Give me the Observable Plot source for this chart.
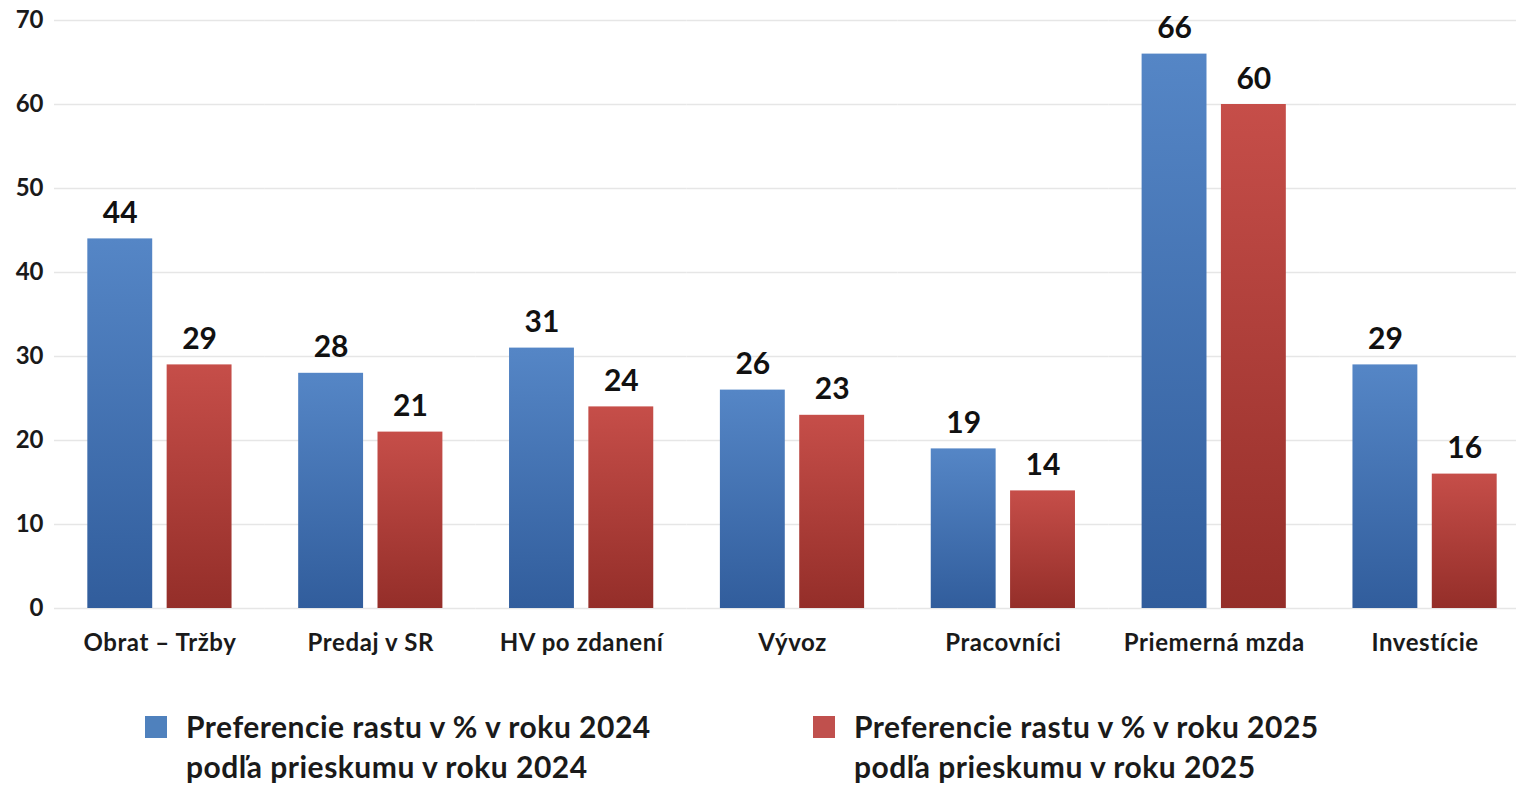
<!DOCTYPE html>
<html>
<head>
<meta charset="utf-8">
<script src="https://cdn.jsdelivr.net/npm/d3@7"></script>
<script src="https://cdn.jsdelivr.net/npm/@observablehq/plot@0.6"></script>
<style>
  html, body { margin: 0; padding: 0; background: #fff; overflow: hidden; }
  #wrap { position: relative; width: 1516px; height: 791px; overflow: hidden; font-family: Lato, "Open Sans", sans-serif; }
  #wrap svg { overflow: hidden; }
  #wrap svg g[aria-label="fx-axis tick label"] text { letter-spacing: 0.6px; }
  .leg { position: absolute; top: 706px; font-weight: bold; font-size: 30px; letter-spacing: 0.5px; line-height: 40px; color: #1a1a1a; }
  .leg .sw { position: absolute; left: 0; top: 10px; width: 22px; height: 22px; }
  .leg .tx { position: absolute; left: 41px; top: 0; white-space: nowrap; }
</style>
</head>
<body>
<div id="wrap"></div>
<script>
const categories = ["Obrat – Tržby", "Predaj v SR", "HV po zdanení", "Vývoz", "Pracovníci", "Priemerná mzda", "Investície"];
const seriesKeys = ["2024", "2025"];
const values2024 = [44, 28, 31, 26, 19, 66, 29];
const values2025 = [29, 21, 24, 23, 14, 60, 16];
const yTicks = [0, 10, 20, 30, 40, 50, 60, 70];
const legendLines = [
  ["Preferencie rastu v % v roku 2024", "podľa prieskumu v roku 2024"],
  ["Preferencie rastu v % v roku 2025", "podľa prieskumu v roku 2025"]
];

const data = [];
categories.forEach((c, i) => {
  data.push({cat: c, key: seriesKeys[0], value: values2024[i]});
  data.push({cat: c, key: seriesKeys[1], value: values2025[i]});
});

const chart = Plot.plot({
  width: 1516,
  height: 658,
  marginLeft: 55,
  marginRight: 0,
  marginTop: 20,
  marginBottom: 50,
  style: {fontFamily: "Lato, 'Open Sans', sans-serif", color: "#1a1a1a", background: "transparent", overflow: "hidden"},
  fx: {domain: categories, padding: 0, round: false, label: null, range: [54, 1530]},
  x: {domain: seriesKeys, paddingInner: 0.182, paddingOuter: 0.42, round: false, axis: null},
  y: {domain: [0, 70], label: null},
  color: {domain: seriesKeys, range: ["url(#gBlue)", "url(#gRed)"]},
  marks: [
    Plot.gridY(yTicks, {stroke: "#e6e6e6", strokeOpacity: 1, strokeWidth: 1.5}),
    Plot.axisY(yTicks, {tickSize: 0, tickPadding: 11, fontSize: 24, fontWeight: "bold", label: null, tickFormat: d => d}),
    Plot.axisFx({anchor: "bottom", tickSize: 0, tickPadding: 25, fontSize: 24, fontWeight: "bold", label: null}),
    Plot.barY(data, {fx: "cat", x: "key", y: "value", fill: "key"}),
    Plot.text(data, {fx: "cat", x: "key", y: "value", text: d => String(d.value), dy: -16, lineAnchor: "bottom", fontSize: 30, fontWeight: "bold", fill: "#111"})
  ]
});

const ns = "http://www.w3.org/2000/svg";
const defs = document.createElementNS(ns, "defs");
function grad(id, c1, c2) {
  const g = document.createElementNS(ns, "linearGradient");
  g.setAttribute("id", id);
  g.setAttribute("x1", "0"); g.setAttribute("y1", "0");
  g.setAttribute("x2", "0"); g.setAttribute("y2", "1");
  [[0, c1], [1, c2]].forEach(([o, c]) => {
    const s = document.createElementNS(ns, "stop");
    s.setAttribute("offset", o);
    s.setAttribute("stop-color", c);
    g.appendChild(s);
  });
  defs.appendChild(g);
}
grad("gBlue", "#5586c6", "#315d9c");
grad("gRed", "#c64e49", "#942e29");
chart.insertBefore(defs, chart.firstChild);

const wrap = document.getElementById("wrap");
wrap.appendChild(chart);

const legColors = ["#4f81bd", "#c0504d"];
const legLeft = [145, 813];
legendLines.forEach((lines, i) => {
  const d = document.createElement("div");
  d.className = "leg";
  d.style.left = legLeft[i] + "px";
  const sw = document.createElement("div");
  sw.className = "sw";
  sw.style.background = legColors[i];
  const tx = document.createElement("div");
  tx.className = "tx";
  tx.innerHTML = lines.join("<br>");
  d.appendChild(sw); d.appendChild(tx);
  wrap.appendChild(d);
});
</script>
</body>
</html>
